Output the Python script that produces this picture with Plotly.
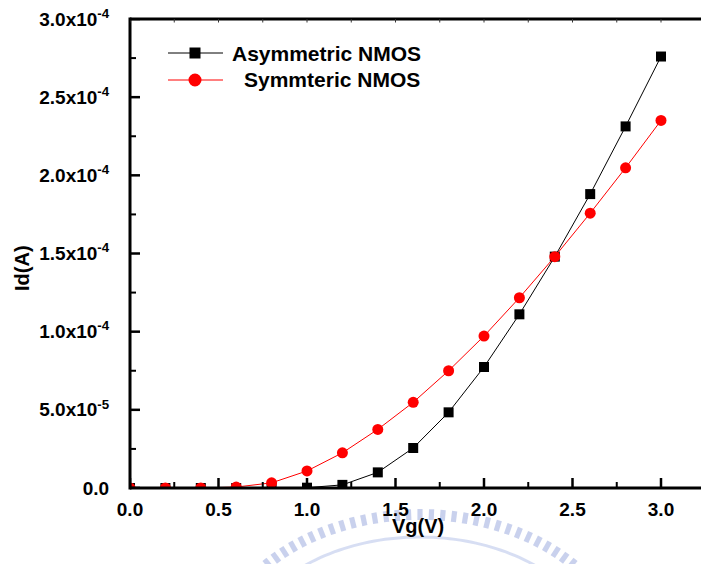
import numpy as np
import plotly.graph_objects as go

# Gate voltage sweep (V)
vg = [0.0, 0.2, 0.4, 0.6, 0.8, 1.0, 1.2, 1.4, 1.6, 1.8, 2.0, 2.2, 2.4, 2.6, 2.8, 3.0]
# Drain current (A)
id_asym = [0, 0, 0, 0, 0, 0.2e-6, 2.0e-6, 1.0e-5, 2.56e-5, 4.84e-5, 7.74e-5,
           1.111e-4, 1.48e-4, 1.88e-4, 2.313e-4, 2.76e-4]
id_sym = [0, 0, 0, 0.6e-6, 3.3e-6, 1.09e-5, 2.25e-5, 3.75e-5, 5.48e-5, 7.5e-5,
          9.72e-5, 1.217e-4, 1.48e-4, 1.758e-4, 2.048e-4, 2.351e-4]

series_names = ["Asymmetric NMOS", "Symmteric NMOS"]
y_tick_vals = [0, 5e-5, 1e-4, 1.5e-4, 2e-4, 2.5e-4, 3e-4]
y_tick_text = ["0.0", "5.0x10<sup>-5</sup>", "1.0x10<sup>-4</sup>", "1.5x10<sup>-4</sup>",
               "2.0x10<sup>-4</sup>", "2.5x10<sup>-4</sup>", "3.0x10<sup>-4</sup>"]
y_minor_vals = [2.5e-5, 7.5e-5, 1.25e-4, 1.75e-4, 2.25e-4, 2.75e-4]
x_tick_vals = [0.0, 0.5, 1.0, 1.5, 2.0, 2.5, 3.0]
x_tick_text = ["0.0", "0.5", "1.0", "1.5", "2.0", "2.5", "3.0"]
x_minor_vals = [0.25, 0.75, 1.25, 1.75, 2.25, 2.75]

W, H = 701, 564
L, R, T, B = 130, 0, 19, 76
PW, PH = W - L - R, H - T - B
XMAX = 3.226

FONT = "Liberation Sans, Arial, sans-serif"


def px(x):
    return (x - L) / PW


def py(y):
    return (T + PH - y) / PH


fig = go.Figure()
fig.add_trace(go.Scatter(
    x=vg, y=id_asym, mode="lines+markers", name=series_names[0],
    line=dict(color="black", width=1),
    marker=dict(symbol="square", size=10, color="black"),
    showlegend=False,
))
fig.add_trace(go.Scatter(
    x=vg, y=id_sym, mode="lines+markers", name=series_names[1],
    line=dict(color="#ff0000", width=1),
    marker=dict(symbol="circle", size=11, color="#ff0000"),
    showlegend=False,
))

shapes = []
annotations = []

# frame: left and bottom spines, top edge
shapes.append(dict(type="line", xref="paper", yref="paper", x0=0, x1=0, y0=-1.5 / PH, y1=1 + 1.5 / PH,
                   line=dict(color="black", width=3)))
shapes.append(dict(type="line", xref="paper", yref="paper", x0=0, x1=1, y0=0, y1=0,
                   line=dict(color="black", width=3)))
shapes.append(dict(type="line", xref="paper", yref="paper", x0=0, x1=1, y0=1, y1=1,
                   line=dict(color="black", width=3)))

# tick marks: long on the major values, short on the half steps, tiny on the top edge
for v in x_tick_vals:
    shapes.append(dict(type="line", xref="x", yref="paper", x0=v, x1=v,
                       y0=0, y1=10 / PH, line=dict(color="black", width=2.5)))
for v in x_minor_vals:
    shapes.append(dict(type="line", xref="x", yref="paper", x0=v, x1=v,
                       y0=0, y1=6 / PH, line=dict(color="black", width=2)))
for v in x_tick_vals + x_minor_vals:
    shapes.append(dict(type="line", xref="x", yref="paper", x0=v, x1=v,
                       y0=1, y1=1 - 3.5 / PH, line=dict(color="#333", width=1)))
for v in y_tick_vals:
    shapes.append(dict(type="line", xref="paper", yref="y", x0=0, x1=10 / PW,
                       y0=v, y1=v, line=dict(color="black", width=2.5)))
for v in y_minor_vals:
    shapes.append(dict(type="line", xref="paper", yref="y", x0=0, x1=6 / PW,
                       y0=v, y1=v, line=dict(color="black", width=2)))

# legend block
legend_rows = [
    (53, "black", "square", series_names[0], 230),
    (80, "#ff0000", "circle", series_names[1], 242),
]
for yy, col, sym, label, tx in legend_rows:
    shapes.append(dict(type="line", xref="paper", yref="paper",
                       x0=px(168), x1=px(223), y0=py(yy), y1=py(yy),
                       line=dict(color=col, width=1)))
    if sym == "square":
        h = 5.5
        shapes.append(dict(type="rect", xref="paper", yref="paper",
                           x0=px(195 - h), x1=px(195 + h), y0=py(yy + h), y1=py(yy - h),
                           fillcolor=col, line=dict(width=0)))
    else:
        r = 6.5
        shapes.append(dict(type="circle", xref="paper", yref="paper",
                           x0=px(195 - r), x1=px(195 + r), y0=py(yy + r), y1=py(yy - r),
                           fillcolor=col, line=dict(width=0)))
    annotations.append(dict(text=label, xref="paper", yref="paper",
                            x=px(tx), y=py(yy), xanchor="left", yanchor="middle",
                            showarrow=False,
                            font=dict(family=FONT, size=21, color="black", weight="bold")))

# axis titles
annotations.append(dict(text="Vg(V)", xref="paper", yref="paper",
                        x=px(418), y=py(526), xanchor="center", yanchor="middle",
                        showarrow=False,
                        font=dict(family=FONT, size=20, color="black", weight="bold")))
annotations.append(dict(text="Id(A)", xref="paper", yref="paper",
                        x=px(22), y=py(268), xanchor="center", yanchor="middle",
                        textangle=-90, showarrow=False,
                        font=dict(family=FONT, size=20, color="black", weight="bold")))

# faint emblem arc at the bottom of the page
cx, cy, rx, ry = 420, 665, 200, 145
wm = "rgba(120,140,210,0.40)"
for ang in np.arange(42, 140, 3.2):
    a = np.radians(ang)
    bx, by = cx + rx * np.cos(a), cy - ry * np.sin(a)
    nx, ny = np.cos(a) * ry, -np.sin(a) * rx
    nl = np.hypot(nx, ny)
    nx, ny = nx / nl, ny / nl
    tx_, ty_ = -ny, nx
    hw, ln = 2.6, 11
    pts = [(bx - tx_ * hw, by - ty_ * hw), (bx + tx_ * hw, by + ty_ * hw),
           (bx + tx_ * hw + nx * ln, by + ty_ * hw + ny * ln),
           (bx - tx_ * hw + nx * ln, by - ty_ * hw + ny * ln)]
    path = "M" + " L".join(f"{px(p[0]):.5f},{py(p[1]):.5f}" for p in pts) + " Z"
    shapes.append(dict(type="path", xref="paper", yref="paper", path=path,
                       fillcolor=wm, line=dict(width=0), layer="below"))
band = []
for ang in np.linspace(40, 140, 60):
    a = np.radians(ang)
    band.append((cx + (rx - 17) * np.cos(a), cy - (ry - 17) * np.sin(a)))
path = "M" + " L".join(f"{px(p[0]):.5f},{py(p[1]):.5f}" for p in band)
shapes.append(dict(type="path", xref="paper", yref="paper", path=path,
                   line=dict(color="rgba(140,160,220,0.35)", width=3), layer="below"))

tick_font = dict(family=FONT, size=19, color="black", weight="bold")

fig.update_layout(
    width=W, height=H,
    margin=dict(l=L, r=R, t=T, b=B),
    paper_bgcolor="white", plot_bgcolor="white",
    shapes=shapes, annotations=annotations,
    xaxis=dict(
        range=[0, XMAX], showgrid=False, zeroline=False, showline=False,
        ticks="outside", ticklen=4, tickcolor="rgba(0,0,0,0)",
        tickvals=x_tick_vals, ticktext=x_tick_text, tickfont=tick_font,
    ),
    yaxis=dict(
        range=[0, 3e-4], showgrid=False, zeroline=False, showline=False,
        ticks="outside", ticklen=16, tickcolor="rgba(0,0,0,0)",
        tickvals=y_tick_vals, ticktext=y_tick_text, tickfont=tick_font,
    ),
)

fig.write_html("out.html")
